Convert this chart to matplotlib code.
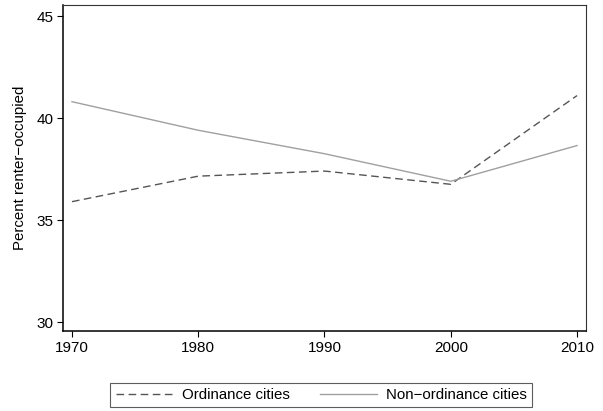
import matplotlib
matplotlib.use("Agg")
import matplotlib.pyplot as plt

years = [1970, 1980, 1990, 2000, 2010]
ordinance = [35.9, 37.15, 37.4, 36.75, 41.1]
non_ordinance = [40.8, 39.4, 38.25, 36.9, 38.65]
xticks = [1970, 1980, 1990, 2000, 2010]
yticks = [30, 35, 40, 45]

plt.rcParams['font.family'] = ['Liberation Sans', 'DejaVu Sans']

fig = plt.figure(figsize=(6.03, 4.11), dpi=100)
ax = fig.add_axes([63/603, 1 - 331/411, (586-63)/603, (331-5)/411])

ax.plot(years, ordinance, color='#555555', lw=1.0, ls=(0, (5.5, 3.2)), label='Ordinance cities')
ax.plot(years, non_ordinance, color='#a0a0a0', lw=1.0, ls='-', label='Non\u2212ordinance cities')

ax.set_xlim(1969.29, 2010.71)
ax.set_ylim(29.56, 45.54)
ax.set_xticks(xticks)
ax.set_yticks(yticks)
ax.tick_params(labelsize=11, length=4.5, width=0.8, color='black', pad=2.5)
ax.set_ylabel('Percent renter\u2212occupied', fontsize=10.8, labelpad=7)

for s in ['left', 'bottom']:
    ax.spines[s].set_linewidth(1.1)
    ax.spines[s].set_color('black')
for s in ['top', 'right']:
    ax.spines[s].set_linewidth(0.8)
    ax.spines[s].set_color('#333333')

leg = fig.legend(loc='center', bbox_to_anchor=(321/603, 1 - 395/411), ncol=2,
                 fontsize=10.8, frameon=True, fancybox=False, edgecolor='#333333',
                 handlelength=3.8, columnspacing=2.0, borderpad=0.35, handletextpad=0.6)
leg.get_frame().set_linewidth(0.8)

fig.savefig('out.png', dpi=100)
